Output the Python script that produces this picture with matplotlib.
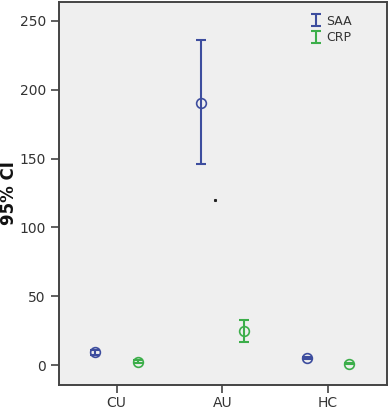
"""
    95% CI of SAA and CRP by group
"""

import numpy as np
import matplotlib.pyplot as plt

groups = ['CU', 'AU', 'HC']

saa_mean = [9.4, 190.6, 5.3]
saa_low = [7.5, 145.9, 4.5]
saa_high = [11.0, 236.3, 6.0]

crp_mean = [2.4, 24.9, 1.2]
crp_low = [1.5, 16.9, 0.5]
crp_high = [3.4, 33.1, 1.8]

# stray dot visible in the original
dot_x = [0.93]
dot_y = [119.7]

saa_color = '#3d4d9e'
crp_color = '#3cae4a'
text_color = '#333333'

x = np.arange(len(groups))
off = 0.2

fig = plt.figure(figsize=(3.88, 4.09), dpi=100)
ax = fig.add_axes([0.152, 0.059, 0.845, 0.936])
ax.set_facecolor('#efefef')

def draw(xs, mean, low, high, color, label):
    mean = np.array(mean)
    yerr = [mean - np.array(low), np.array(high) - mean]
    ax.errorbar(xs, mean, yerr=yerr, fmt='none', ecolor=color,
                elinewidth=1.5, capsize=3.8, capthick=1.5, label=label)
    ax.plot(xs, mean, 'o', mfc='none', mec=color, ms=7, mew=1.2)

draw(x - off, saa_mean, saa_low, saa_high, saa_color, 'SAA')
draw(x + off, crp_mean, crp_low, crp_high, crp_color, 'CRP')
ax.plot(dot_x, dot_y, 's', color='#222222', ms=1.2)

ax.set_xlim(-0.545, 2.555)
ax.set_ylim(-14.3, 263.6)
ax.set_xticks(x)
ax.set_xticklabels(groups)
ax.set_yticks([0, 50, 100, 150, 200, 250])
ax.tick_params(direction='out', length=6, width=1.2, colors='#444444',
               labelcolor=text_color, labelsize=10)
ax.tick_params(axis='x', pad=2)
ax.set_ylabel('95% CI', fontsize=12, fontweight='bold', color='#111111',
              labelpad=1)

for s in ax.spines.values():
    s.set_color('#444444')
    s.set_linewidth(1.4)

leg = ax.legend(loc='upper right', frameon=False, fontsize=9,
                handlelength=0.6, handletextpad=0.5, labelspacing=0.3,
                borderaxespad=0.6, bbox_to_anchor=(0.93, 1.0))
for t in leg.get_texts():
    t.set_color(text_color)

fig.savefig('out.png', dpi=100)
